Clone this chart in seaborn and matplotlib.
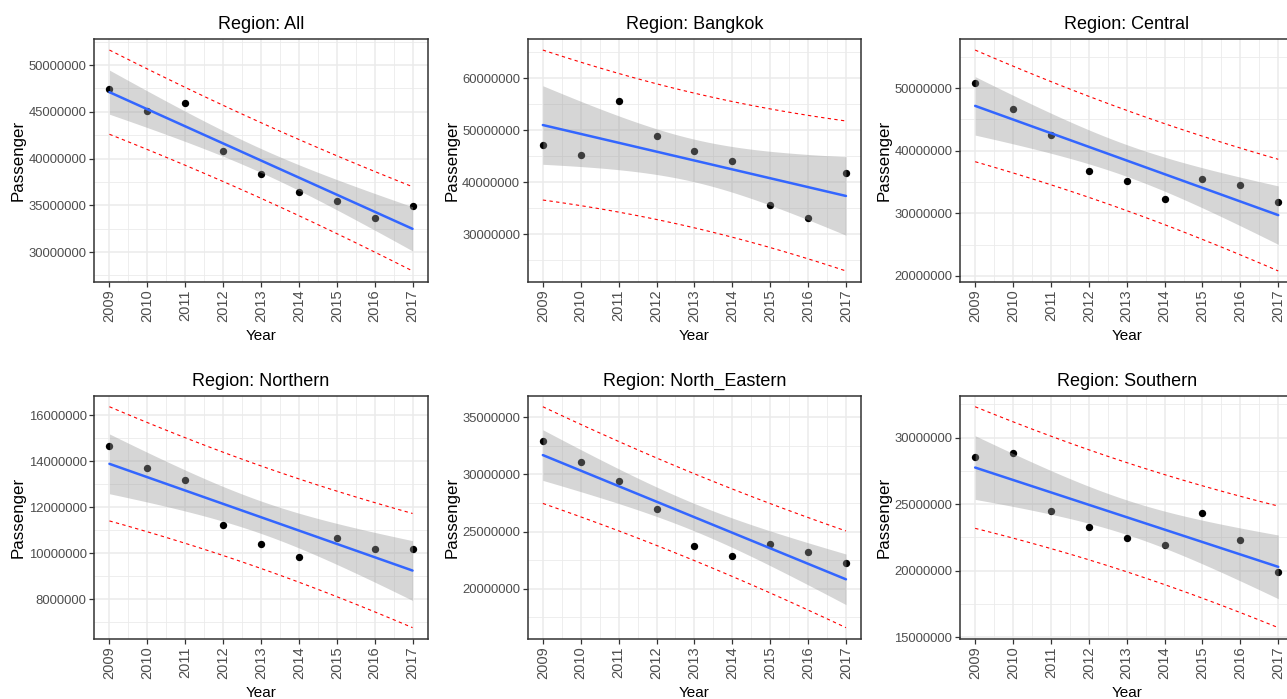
import numpy as np
import pandas as pd
import seaborn as sns
import matplotlib.pyplot as plt
from matplotlib.ticker import MultipleLocator, FuncFormatter

# Data
years = [2009, 2010, 2011, 2012, 2013, 2014, 2015, 2016, 2017]
regions = ['All', 'Bangkok', 'Central', 'Northern', 'North_Eastern', 'Southern']

pass_all = [47480000, 45100000, 45900000, 40830000, 38340000, 36390000, 35500000, 33650000, 34970000]
pass_bangkok = [47200000, 45350000, 55600000, 48850000, 45990000, 44140000, 35730000, 33180000, 41850000]
pass_central = [50800000, 46720000, 42450000, 36700000, 35100000, 32250000, 35470000, 34520000, 31830000]
pass_northern = [14670000, 13710000, 13190000, 11220000, 10420000, 9840000, 10680000, 10200000, 10200000]
pass_north_eastern = [32910000, 31080000, 29390000, 27010000, 23720000, 22880000, 23870000, 23200000, 22240000]
pass_southern = [28570000, 28840000, 24520000, 23320000, 22490000, 21930000, 24320000, 22310000, 19920000]

ytick_steps = [5e6, 1e7, 1e7, 2e6, 5e6, 5e6]

series = [pass_all, pass_bangkok, pass_central, pass_northern, pass_north_eastern, pass_southern]

sns.set_theme(style='white')
plt.rcParams['font.family'] = ['Liberation Sans', 'DejaVu Sans']

W, H = 1287, 699
fig = plt.figure(figsize=(W / 100, H / 100), dpi=100)

col_left = [94.3, 527.7, 960.0]
row_top = [39.0, 395.7]
pw, ph = 333.4, 243.0

T_CRIT = 2.364624  # t(0.975, df=7)

for i, (region, vals) in enumerate(zip(regions, series)):
    r, c = divmod(i, 3)
    ax = fig.add_axes([col_left[c] / W, 1 - (row_top[r] + ph) / H, pw / W, ph / H])

    df = pd.DataFrame({'Year': years, 'Passenger': vals})
    x = df['Year'].to_numpy(float)
    y = df['Passenger'].to_numpy(float)
    n = len(x)

    # linear fit with confidence and prediction intervals
    b, a = np.polyfit(x, y, 1)
    resid = y - (a + b * x)
    s = np.sqrt((resid ** 2).sum() / (n - 2))
    sxx = ((x - x.mean()) ** 2).sum()
    xg = np.linspace(x.min(), x.max(), 80)
    yg = a + b * xg
    se_fit = s * np.sqrt(1 / n + (xg - x.mean()) ** 2 / sxx)
    se_pred = s * np.sqrt(1 + 1 / n + (xg - x.mean()) ** 2 / sxx)

    sns.scatterplot(data=df, x='Year', y='Passenger', ax=ax, color='black',
                    s=28, linewidth=0, zorder=2)
    ax.fill_between(xg, yg - T_CRIT * se_fit, yg + T_CRIT * se_fit,
                    color='#999999', alpha=0.4, linewidth=0, zorder=3)
    sns.lineplot(x=xg, y=yg, ax=ax, color='#3366FF', lw=1.8, zorder=4)
    sns.lineplot(x=xg, y=yg + T_CRIT * se_pred, ax=ax, color='red', lw=0.8,
                 linestyle=(0, (3, 3)), zorder=4)
    sns.lineplot(x=xg, y=yg - T_CRIT * se_pred, ax=ax, color='red', lw=0.8,
                 linestyle=(0, (3, 3)), zorder=4)

    ax.margins(x=0.05, y=0.05)
    ax.set_xticks(years)
    ax.set_xticklabels([str(v) for v in years], rotation=90, fontsize=10.5)
    ax.xaxis.set_minor_locator(MultipleLocator(0.5))
    ax.yaxis.set_major_locator(MultipleLocator(ytick_steps[i]))
    ax.yaxis.set_minor_locator(MultipleLocator(ytick_steps[i] / 2))
    ax.yaxis.set_major_formatter(FuncFormatter(lambda v, p: f'{v:.0f}'))

    ax.set_facecolor('white')
    ax.grid(which='major', color='#EBEBEB', lw=1.1, zorder=0)
    ax.grid(which='minor', color='#EBEBEB', lw=0.6, zorder=0)
    ax.set_axisbelow(True)
    for sp in ax.spines.values():
        sp.set_color('#333333')
        sp.set_linewidth(1.1)

    ax.tick_params(which='major', length=3.5, width=0.9, color='#333333',
                   labelcolor='#4D4D4D', pad=2, bottom=True, left=True)
    ax.tick_params(axis='y', which='major', labelsize=9.4)
    ax.tick_params(which='minor', length=0)

    ax.set_title(f'Region: {region}', fontsize=13, color='black', pad=7)
    ax.set_xlabel('Year', fontsize=11, color='black', labelpad=5)
    ax.set_ylabel('Passenger', fontsize=12.2, color='black', labelpad=2)

fig.savefig('out.png', dpi=100)
